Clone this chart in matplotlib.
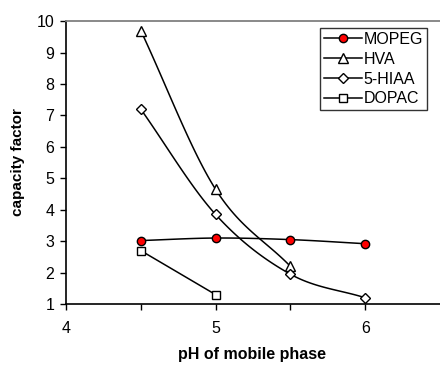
import numpy as np
import matplotlib.pyplot as plt

plt.rcParams.update({'font.family': ['Liberation Sans', 'DejaVu Sans'], 'font.size': 11.5})

# data
ph_mopeg = [4.5, 5.0, 5.5, 6.0]
k_mopeg = [3.02, 3.10, 3.05, 2.92]
ph_hva = [4.5, 5.0, 5.5]
k_hva = [9.70, 4.65, 2.20]
ph_hiaa = [4.5, 5.0, 5.5, 6.0]
k_hiaa = [7.20, 3.85, 1.95, 1.20]
ph_dopac = [4.5, 5.0]
k_dopac = [2.70, 1.30]

x_ticks = [4, 5, 6]


def smooth(x, y, n=30):
    '''Catmull-Rom curve through the points, like the spreadsheet "smoothed line"'''
    x = np.asarray(x, float)
    y = np.asarray(y, float)
    if len(x) < 3:
        return x, y
    px = np.concatenate([[2 * x[0] - x[1]], x, [2 * x[-1] - x[-2]]])
    py = np.concatenate([[2 * y[0] - y[1]], y, [2 * y[-1] - y[-2]]])
    xs, ys = [], []
    t = np.linspace(0, 1, n)
    for i in range(1, len(px) - 2):
        for p, out in ((px, xs), (py, ys)):
            p0, p1, p2, p3 = p[i - 1], p[i], p[i + 1], p[i + 2]
            out.extend(0.5 * (2 * p1 + (-p0 + p2) * t + (2 * p0 - 5 * p1 + 4 * p2 - p3) * t ** 2
                              + (-p0 + 3 * p1 - 3 * p2 + p3) * t ** 3))
    return np.array(xs), np.array(ys)


fig = plt.figure(figsize=(4.4, 3.65), dpi=100)
ax = fig.add_axes([0.15, 0.167, 0.85, 0.775])

series = [
    (ph_mopeg, k_mopeg, 'o', 'red', 'MOPEG', True),
    (ph_hva, k_hva, '^', 'white', 'HVA', True),
    (ph_hiaa, k_hiaa, 'D', 'white', '5-HIAA', True),
    (ph_dopac, k_dopac, 's', 'white', 'DOPAC', False),
]
msize = {'o': 6, '^': 7, 'D': 5, 's': 6}
for x, y, m, fc, lab, sm in series:
    if sm:
        xs, ys = smooth(x, y)
    else:
        xs, ys = np.asarray(x), np.asarray(y)
    ax.plot(xs, ys, color='black', lw=1.1, zorder=2)
    ax.plot(x, y, ls='none', marker=m, ms=msize[m], mfc=fc, mec='black', mew=1, zorder=3)
    ax.plot([], [], color='black', lw=1.1, marker=m, ms=msize[m], mfc=fc, mec='black',
            mew=1, label=lab)

ax.set_xlim(4, 6.5)
ax.set_ylim(1, 10)
ax.set_xticks(x_ticks)
ax.set_xticks([4.5, 5.5], minor=True)
ax.set_yticks(range(1, 11))
ax.tick_params(axis='both', which='both', direction='out', length=4.5, width=1, colors='black')
ax.tick_params(axis='x', which='major', pad=8)
ax.tick_params(axis='y', which='major', pad=4)
ax.spines['right'].set_visible(False)
ax.spines['top'].set_color('#808080')
ax.spines['top'].set_linewidth(1.3)
ax.spines['left'].set_linewidth(1.2)
ax.spines['bottom'].set_linewidth(1.2)

fig.text(252 / 440, 1 - 355 / 365, 'pH of mobile phase', fontweight='bold', fontsize=11.5,
         ha='center', va='center')
fig.text(18 / 440, 1 - 162 / 365, 'capacity factor', fontweight='bold', fontsize=11,
         ha='center', va='center', rotation=90)

leg = ax.legend(loc='upper right', bbox_to_anchor=(427 / 440, 1 - 28 / 365),
                bbox_transform=fig.transFigure, frameon=True, fancybox=False,
                handlelength=2.4, handletextpad=0.1, borderpad=0.25, labelspacing=0.3,
                borderaxespad=0)
leg.get_frame().set_edgecolor('black')
leg.get_frame().set_linewidth(1)

plt.savefig('out.png', dpi=100)
